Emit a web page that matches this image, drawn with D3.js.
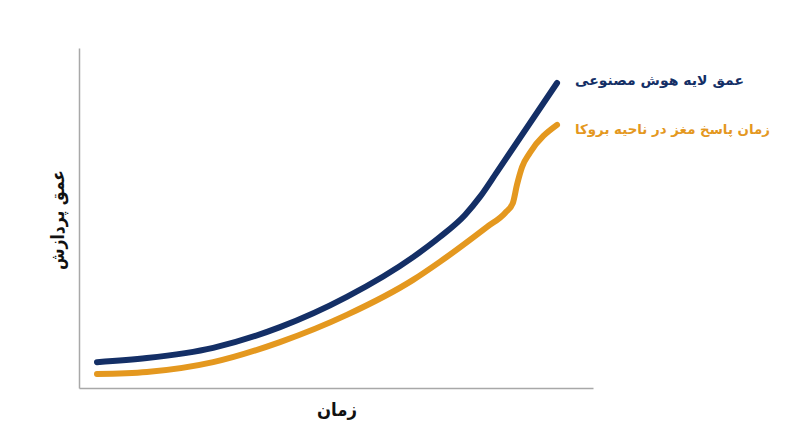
<!DOCTYPE html>
<html>
<head>
<meta charset="utf-8">
<script src="https://cdn.jsdelivr.net/npm/d3@7/dist/d3.min.js"></script>
<style>
  html, body { margin: 0; padding: 0; background: #fff; }
  svg { display: block; }
  text { font-family: "DejaVu Sans", "Noto Sans", sans-serif; font-weight: bold; }
</style>
</head>
<body>
<svg id="chart" width="800" height="447"></svg>
<script>
// Series: x (time, 0-100), y (processing depth, 0-100)
const aiX = [3.5, 13.2, 26.1, 39.1, 52.1, 65.0, 70.2, 75.1, 78.0, 81.3, 93.0];
const aiY = [7.6, 8.8, 11.8, 17.9, 26.8, 38.5, 44.4, 50.9, 56.2, 63.5, 89.7];

const brainX = [3.5, 13.2, 26.1, 39.1, 52.1, 65.0, 70.2, 79.4, 82.9, 84.4, 85.2, 86.2, 87.7, 93.0];
const brainY = [4.1, 4.7, 7.6, 13.5, 21.5, 31.8, 37.1, 47.4, 51.5, 54.4, 59.7, 65.0, 69.1, 77.4];

const seriesNames = ["عمق لایه هوش مصنوعی", "زمان پاسخ مغز در ناحیه بروکا"];
const seriesColors = ["#142f66", "#e4981f"];
const xLabel = "زمان";
const yLabel = "عمق پردازش";

const svg = d3.select("#chart");
const margin = { left: 79, right: 207, top: 48, bottom: 59 };
const W = 800, H = 447;

const x = d3.scaleLinear().domain([0, 100]).range([margin.left, W - margin.right]);
const y = d3.scaleLinear().domain([0, 100]).range([H - margin.bottom, margin.top]);

// axes (no ticks)
svg.append("g")
  .attr("transform", `translate(0,${y(0)})`)
  .call(d3.axisBottom(x).ticks(0).tickSize(0).tickFormat(""))
  .call(g => g.select(".domain").attr("stroke", "#a8a8a8").attr("stroke-width", 1.5));
svg.append("g")
  .attr("transform", `translate(${x(0)},0)`)
  .call(d3.axisLeft(y).ticks(0).tickSize(0).tickFormat(""))
  .call(g => g.select(".domain").attr("stroke", "#a8a8a8").attr("stroke-width", 1.5));

const line = d3.line()
  .x(d => x(d[0]))
  .y(d => y(d[1]))
  .curve(d3.curveMonotoneX);

const series = [
  d3.zip(aiX, aiY),
  d3.zip(brainX, brainY)
];

series.forEach((pts, i) => {
  svg.append("path")
    .datum(pts)
    .attr("d", line)
    .attr("fill", "none")
    .attr("stroke", seriesColors[i])
    .attr("stroke-width", 6)
    .attr("stroke-linecap", "round")
    .attr("stroke-linejoin", "round");
});

// legend labels next to line ends (fitted to the reference text extents)
const legendY = [85, 134];
const legendWidth = [169, 195];
seriesNames.forEach((name, i) => {
  svg.append("text")
    .attr("x", 575)
    .attr("y", legendY[i])
    .attr("text-anchor", "start")
    .attr("font-size", 13.5)
    .attr("textLength", legendWidth[i])
    .attr("lengthAdjust", "spacingAndGlyphs")
    .attr("fill", seriesColors[i])
    .text(name);
});

// axis labels
svg.append("text")
  .attr("x", 337)
  .attr("y", 416)
  .attr("text-anchor", "middle")
  .attr("font-size", 18)
  .attr("textLength", 40)
  .attr("lengthAdjust", "spacingAndGlyphs")
  .attr("fill", "#111")
  .text(xLabel);

svg.append("text")
  .attr("transform", `translate(64,220) rotate(-90)`)
  .attr("text-anchor", "middle")
  .attr("font-size", 18)
  .attr("textLength", 100)
  .attr("lengthAdjust", "spacingAndGlyphs")
  .attr("fill", "#111")
  .text(yLabel);
</script>
</body>
</html>
